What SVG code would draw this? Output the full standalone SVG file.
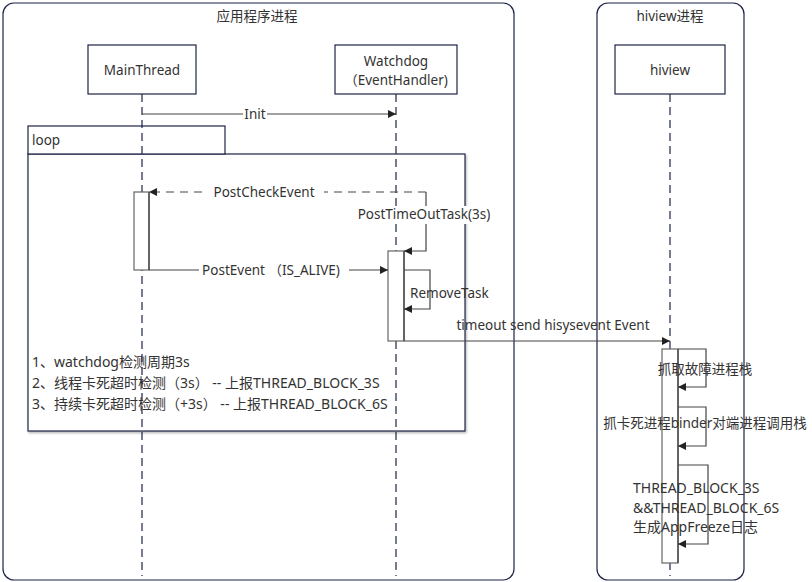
<svg xmlns="http://www.w3.org/2000/svg" width="812" height="582" viewBox="0 0 812 582">
<defs>
<marker id="ah" viewBox="0 0 10 10" refX="10" refY="5" markerWidth="8" markerHeight="8" markerUnits="userSpaceOnUse" orient="auto">
<path d="M0,0 L10,5 L0,10 z" fill="#222"/>
</marker>
<filter id="sh" x="-5%" y="-5%" width="110%" height="110%">
<feDropShadow dx="1" dy="1.5" stdDeviation="0.8" flood-color="#000" flood-opacity="0.3"/>
</filter>
</defs>
<style>
text{font-family:"Noto Sans","Noto Sans CJK SC",sans-serif;font-size:13.5px;fill:#333;}
.big{font-size:14px;}
.frame{fill:none;stroke:#1d2347;stroke-width:1.2;}
.box{fill:#fff;stroke:#1d2347;stroke-width:1.2;}
.life{fill:none;stroke:#1d2347;stroke-width:1.2;stroke-dasharray:8 5;}
.act{fill:#fff;stroke:#666;stroke-width:1.2;}
.actedge{stroke:#555;stroke-width:1.6;}
.msg{fill:none;stroke:#444;stroke-width:1.2;}
.dash{stroke-dasharray:8 6;}
.c{text-anchor:middle;}
</style>
<rect width="812" height="582" fill="#fff"/>

<g id="frame-app">
<rect class="frame" x="3" y="3" width="511" height="577" rx="11"/>
<text class="c" x="257" y="21">应用程序进程</text>
</g>
<g id="frame-hiview">
<rect class="frame" x="597" y="3" width="147" height="577" rx="11"/>
<text class="c" x="670" y="21">hiview进程</text>
</g>

<g id="loop">
<rect class="box" x="28" y="154" width="437" height="277" filter="url(#sh)"/>
<rect class="box" x="28" y="126" width="197" height="28"/>
<text x="32" y="145">loop</text>
<text class="big" x="32" y="367">1、watchdog检测周期3s</text>
<text class="big" x="32" y="388">2、线程卡死超时检测（3s） -- 上报THREAD_BLOCK_3S</text>
<text class="big" x="32" y="409">3、持续卡死超时检测（+3s） -- 上报THREAD_BLOCK_6S</text>
</g>

<g id="lifelines">
<line class="life" x1="142" y1="94" x2="142" y2="576"/>
<line class="life" x1="396" y1="94" x2="396" y2="576"/>
<line class="life" x1="670" y1="94" x2="670" y2="576"/>
</g>

<g id="node-mainthread">
<rect class="box" x="88" y="45" width="108" height="49"/>
<text class="c" x="142" y="75">MainThread</text>
</g>
<g id="node-watchdog">
<rect class="box" x="335" y="45" width="122" height="49"/>
<text class="c" x="396" y="66">Watchdog</text>
<text class="c" x="396" y="85">（EventHandler)</text>
</g>
<g id="node-hiview">
<rect class="box" x="615" y="45" width="110" height="49"/>
<text class="c" x="670" y="75">hiview</text>
</g>

<g id="activations">
<rect class="act" x="134" y="192" width="15" height="78"/>
<line class="actedge" x1="149" y1="192" x2="149" y2="270"/>
<rect class="act" x="388" y="251" width="16" height="90"/>
<line class="actedge" x1="404" y1="251" x2="404" y2="341"/>
<rect class="act" x="662" y="349" width="16" height="214"/>
<line class="actedge" x1="678" y1="349" x2="678" y2="563"/>
</g>

<g id="connectors">
<line class="msg" x1="142" y1="114" x2="396" y2="114" marker-end="url(#ah)"/>
<rect x="243" y="106" width="24" height="16" fill="#fff"/>
<text class="c" x="255" y="119">Init</text>

<polyline class="msg dash" points="426,192 149,192" marker-end="url(#ah)"/>
<rect x="204" y="184" width="120" height="16" fill="#fff"/>
<text class="c" x="264" y="197">PostCheckEvent</text>
<polyline class="msg" points="426,192 426,251 404,251" marker-end="url(#ah)"/>
<rect x="356" y="206" width="137" height="18" fill="#fff"/>
<text class="c" x="424" y="219">PostTimeOutTask(3s)</text>

<line class="msg" x1="149" y1="270" x2="388" y2="270" marker-end="url(#ah)"/>
<rect x="199" y="262" width="150" height="16" fill="#fff"/>
<text class="c" x="271" y="275">PostEvent （IS_ALIVE)</text>

<polyline class="msg" points="404,270 430,270 430,309 404,309" marker-end="url(#ah)"/>
<text x="410" y="298">RemoveTask</text>

<line class="msg" x1="404" y1="341" x2="670" y2="341" marker-end="url(#ah)"/>
<text class="c" x="553" y="330">timeout send hisysevent Event</text>

<polyline class="msg" points="678,349 706,349 706,387 678,387" marker-end="url(#ah)"/>
<text class="c" x="705" y="374">抓取故障进程栈</text>

<polyline class="msg" points="678,407 706,407 706,446 678,446" marker-end="url(#ah)"/>
<text class="c" x="705" y="428">抓卡死进程binder对端进程调用栈</text>

<polyline class="msg" points="678,465 708,465 708,544 678,544" marker-end="url(#ah)"/>
<text class="big" x="633" y="493">THREAD_BLOCK_3S</text>
<text class="big" x="633" y="513">&amp;&amp;THREAD_BLOCK_6S</text>
<text class="big" x="633" y="532">生成AppFreeze日志</text>
</g>
</svg>
